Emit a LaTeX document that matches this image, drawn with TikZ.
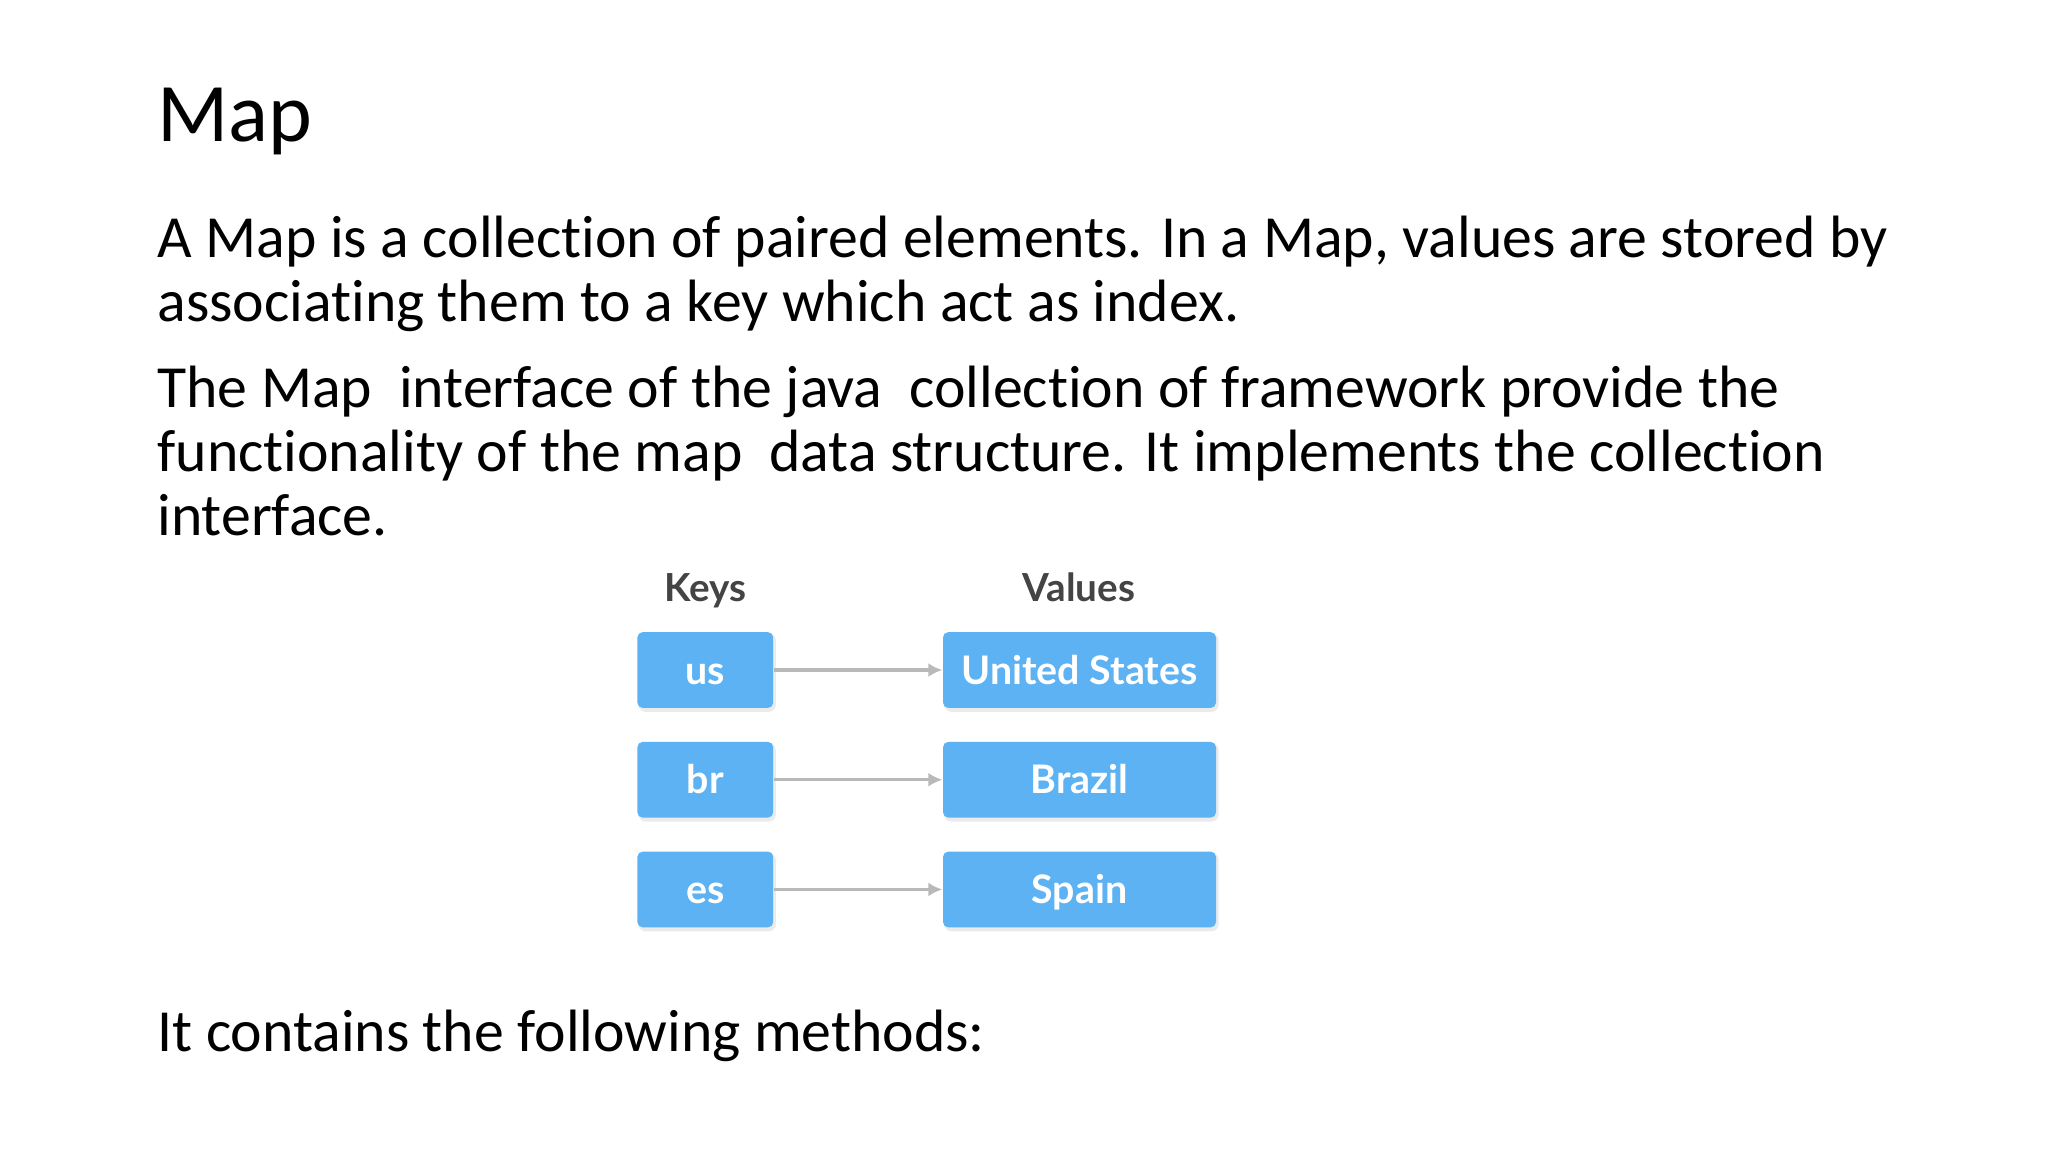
\documentclass[tikz,border=0pt]{standalone}
\usepackage{fontspec}
\setmainfont{Carlito}[Ligatures={NoCommon}]
\newfontfamily\latofont{Lato}
\usetikzlibrary{arrows.meta}
\definecolor{boxblue}{HTML}{5CB2F2}
\definecolor{lbl}{HTML}{444444}
\tikzset{
  body/.style={anchor=base west,inner sep=0pt,font=\fontsize{17}{18.6}\selectfont},
  keybox/.style={fill=boxblue,draw=none,rounded corners=1.5pt,minimum width=104*0.013061cm,minimum height=58*0.013061cm,inner sep=0pt,text height=9pt,text depth=1pt,text=white,font=\latofont\bfseries\fontsize{11.2}{12}\selectfont},
  valbox/.style={keybox,minimum width=209*0.013061cm},
  hdr/.style={text=lbl,font=\latofont\bfseries\fontsize{11}{12}\selectfont,inner sep=0pt,text height=9pt,text depth=2pt},
  conn/.style={draw=gray!55,line width=0.9pt,-{Latex[length=4pt,width=4pt]}},
  shad/.style={fill=black!8,draw=none,rounded corners=2pt}
}
\begin{document}
\begin{tikzpicture}[x=0.013061cm,y=-0.013061cm]
\useasboundingbox[fill=white] (0,0) rectangle (1568,882);
\node[anchor=base west,inner sep=0pt,font=\fontsize{23.7}{28}\selectfont] (title) at (120,108) {Map};
\node[body] (p1a) at (120,197) {A Map is a collection of paired elements. In a Map, values are stored by};
\node[body] (p1b) at (120,246) {associating them to a key which act as index.};
\node[body] (p2a) at (120,312) {The Map\ \ interface of the java\ \ collection of framework provide the};
\node[body] (p2b) at (120,361) {functionality of the map\ \ data structure. It implements the collection};
\node[body] (p2c) at (120,410) {interface.};
\node[body] (p3) at (120,805) {It contains the following methods:};
\node[hdr] (hk) at (540,451) {Keys};
\node[hdr] (hv) at (826,451) {Values};
\foreach \n/\k/\v/\y in {1/us/United States/512,2/br/Brazil/596,3/es/Spain/680}{
  \fill[shad] (489,\y-27) rectangle (594,\y+33);
  \fill[shad] (723,\y-27) rectangle (933,\y+33);
  \node[keybox] (k\n) at (540,\y+1) {\k};
  \node[valbox] (v\n) at (826.5,\y+1) {\v};
  \draw[conn] (k\n) -- (v\n);
}
\end{tikzpicture}
\end{document}
